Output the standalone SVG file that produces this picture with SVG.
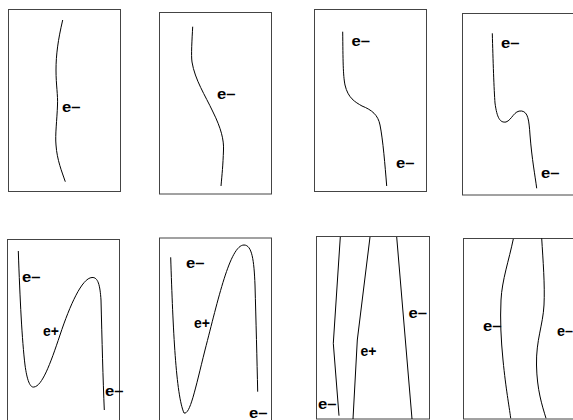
<svg xmlns="http://www.w3.org/2000/svg" width="573" height="420" viewBox="0 0 573 420">
<style>
.box{fill:none;stroke:#444;stroke-width:1}
.c{fill:none;stroke:#000;stroke-width:1}
.t{font-family:"Liberation Sans",Arial,sans-serif;font-weight:bold;font-size:14px;fill:#000}
</style>
<rect width="573" height="420" fill="#fff"/>
<g id="panel1">
<rect class="box" x="8.5" y="9.5" width="112" height="182"/>
<path class="c" d="M62.7,20 C58,40 56,55 56,70 C56,85 58,95 57.5,105 C57,120 55,135 56,145 C57,160 62,172 65.3,181.7"/>
<text class="t" x="62" y="112" textLength="18.5" lengthAdjust="spacingAndGlyphs">e–</text>
</g>
<g id="panel2">
<rect class="box" x="159.5" y="12.5" width="112" height="181.5"/>
<path class="c" d="M192.7,26.7 C192,40 191,55 192,62 C195,80 205,95 213,112 C221,128 224,140 223.5,150 C223,165 222,175 221,186"/>
<text class="t" x="217" y="99" textLength="18.5" lengthAdjust="spacingAndGlyphs">e–</text>
</g>
<g id="panel3">
<rect class="box" x="314.5" y="9.5" width="112" height="182"/>
<path class="c" d="M342.7,31.7 C343,60 343,75 345,85 C348,98 355,102 362,106 C372,110 378,115 380,125 C383,140 385,165 386.7,186"/>
<text class="t" x="351.5" y="46" textLength="18.5" lengthAdjust="spacingAndGlyphs">e–</text>
<text class="t" x="396" y="168" textLength="18.5" lengthAdjust="spacingAndGlyphs">e–</text>
</g>
<g id="panel4">
<rect class="box" x="462.5" y="13.5" width="120" height="181.5"/>
<path class="c" d="M492.3,33.3 C493,60 494,90 495,103 C497,118 500,123 506,122 C512,120 514,110 521.7,111 C528,112 529,120 530,135 C532,160 535,175 536.7,188.3"/>
<text class="t" x="501" y="48" textLength="18.5" lengthAdjust="spacingAndGlyphs">e–</text>
<text class="t" x="541" y="178" textLength="18.5" lengthAdjust="spacingAndGlyphs">e–</text>
</g>
<g id="panel5">
<rect class="box" x="7.5" y="239.5" width="112" height="190"/>
<path class="c" d="M18.3,251 C20,300 22,340 25,365 C27,380 30,388 34,387 C42,386 50,365 60,335 C70,305 82,278 92,277.5 C98,277 100,285 101,300 C102,340 103,380 104.3,410"/>
<text class="t" x="22" y="281.5" textLength="18.5" lengthAdjust="spacingAndGlyphs">e–</text>
<text class="t" x="43" y="336">e+</text>
<text class="t" x="105" y="396" textLength="18.5" lengthAdjust="spacingAndGlyphs">e–</text>
</g>
<g id="panel6">
<rect class="box" x="159.5" y="238" width="112" height="190"/>
<path class="c" d="M170.7,257.3 C173,330 176,395 184,413 C190,415 195,390 205,350 C218,300 230,245 244,245 C252,245 254,260 255,285 C256,320 257,360 257.7,391.7"/>
<text class="t" x="186" y="268" textLength="18.5" lengthAdjust="spacingAndGlyphs">e–</text>
<text class="t" x="194" y="328">e+</text>
<text class="t" x="249" y="418" textLength="18.5" lengthAdjust="spacingAndGlyphs">e–</text>
</g>
<g id="panel7">
<rect class="box" x="316.5" y="236.5" width="113" height="182.5"/>
<polyline class="c" points="340.3,237 333.3,343.3 339,415.7"/>
<polyline class="c" points="370,237 357.3,340 353,419"/>
<polyline class="c" points="396.7,237 412,419"/>
<text class="t" x="408.5" y="318" textLength="18.5" lengthAdjust="spacingAndGlyphs">e–</text>
<text class="t" x="360.5" y="355.5">e+</text>
<text class="t" x="318" y="409" textLength="18.5" lengthAdjust="spacingAndGlyphs">e–</text>
</g>
<g id="panel8">
<rect class="box" x="463.5" y="238.5" width="120" height="180.5"/>
<path class="c" d="M513.3,239 C509,260 502,280 501,300 C500,320 501,340 503,360 C506,390 509,405 510.7,418.3"/>
<path class="c" d="M541.7,238.3 C543,260 545,285 544,305 C543,325 536,340 536.5,365 C537,390 542,405 546,418.3"/>
<text class="t" x="483" y="331" textLength="18.5" lengthAdjust="spacingAndGlyphs">e–</text>
<text class="t" x="557" y="335.5" textLength="16" lengthAdjust="spacingAndGlyphs">e–</text>
</g>
</svg>
